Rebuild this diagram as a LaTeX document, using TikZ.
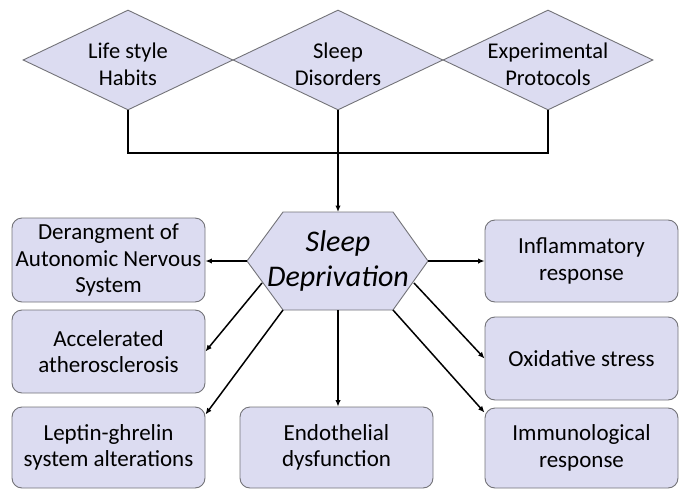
\documentclass[tikz,border=0pt]{standalone}
\usepackage{fontspec}
\setmainfont{Carlito}
\usetikzlibrary{shapes.geometric,arrows.meta}
\definecolor{boxfill}{RGB}{220,220,241}
\definecolor{boxline}{RGB}{115,115,120}
\begin{document}
\begin{tikzpicture}[x=1pt,y=-1pt,
  dia/.style={diamond, draw=boxline, fill=boxfill, line width=0.9pt, minimum width=210pt, minimum height=100pt, inner sep=0pt},
  diatext/.style={align=center, font=\fontsize{22.5}{27}\selectfont, inner sep=0pt},
  box/.style={draw=boxline, fill=boxfill, line width=0.9pt, rounded corners=10pt, minimum width=193pt, align=center, font=\fontsize{23}{26.5}\selectfont, inner sep=0pt},
  link/.style={line width=1.5pt, black},
  arr/.style={link, -{Latex[length=6.5pt,width=5.5pt]}}
]
\useasboundingbox (0,0) rectangle (686,490);
% diamonds
\node[dia] (d1) at (128,60) {};
\node[dia] (d2) at (338,60) {};
\node[dia] (d3) at (548,60) {};
\node[diatext] (d1t) at (128,64) {Life style\\Habits};
\node[diatext] (d2t) at (338,64) {Sleep\\Disorders};
\node[diatext] (d3t) at (548,64) {Experimental\\Protocols};
\coordinate (join) at (338,153);
\draw[link] (d1.south) |- (join) -| (d3.south);
\draw[link] (d2.south) -- (join);
% hexagon
\coordinate (hw) at (247,261);
\coordinate (hnw) at (283,212);
\coordinate (hne) at (393,212);
\coordinate (he) at (428,261);
\coordinate (hse) at (393,310);
\coordinate (hsw) at (283,310);
\filldraw[draw=boxline, fill=boxfill, line width=0.9pt] (hw) -- (hnw) -- (hne) -- (he) -- (hse) -- (hsw) -- cycle;
\node[align=center, font=\fontsize{30}{35}\selectfont\itshape, inner sep=0pt] (hex) at (338,261) {Sleep\\Deprivation};
\coordinate (htop) at (338,212);
\coordinate (hbot) at (338,310);
\coordinate (hll) at (262,283);
\coordinate (hlr) at (414,283);
\draw[arr] (join) -- (htop);
% boxes
\node[box, minimum height=84pt] (b1) at (108.5,260) {Derangment of\\Autonomic Nervous\\System};
\node[box, minimum height=83pt] (b2) at (108.5,351.5) {Accelerated\\atherosclerosis};
\node[box, minimum height=81pt] (b3) at (108.5,447.5) {Leptin-ghrelin\\system alterations};
\node[box, minimum height=81pt] (b4) at (336.5,447.5) {Endothelial\\dysfunction};
\node[box, minimum height=82pt] (r1) at (581.5,261) {Inflammatory\\response};
\node[box, minimum height=83pt] (r2) at (581.5,358.5) {Oxidative stress};
\node[box, minimum height=80pt] (r3) at (581.5,448) {Immunological\\response};
% arrows
\draw[arr] (hw) -- (b1.east |- hw);
\draw[arr] (hll) -- (b2.east);
\draw[arr] (hsw) -- ([yshift=-8pt]b3.north east);
\draw[arr] (hbot) -- (hbot |- b4.north);
\draw[arr] (he) -- (r1.west |- he);
\draw[arr] (hlr) -- (r2.west);
\draw[arr] (hse) -- ([yshift=-5pt]r3.north west);
\end{tikzpicture}
\end{document}
